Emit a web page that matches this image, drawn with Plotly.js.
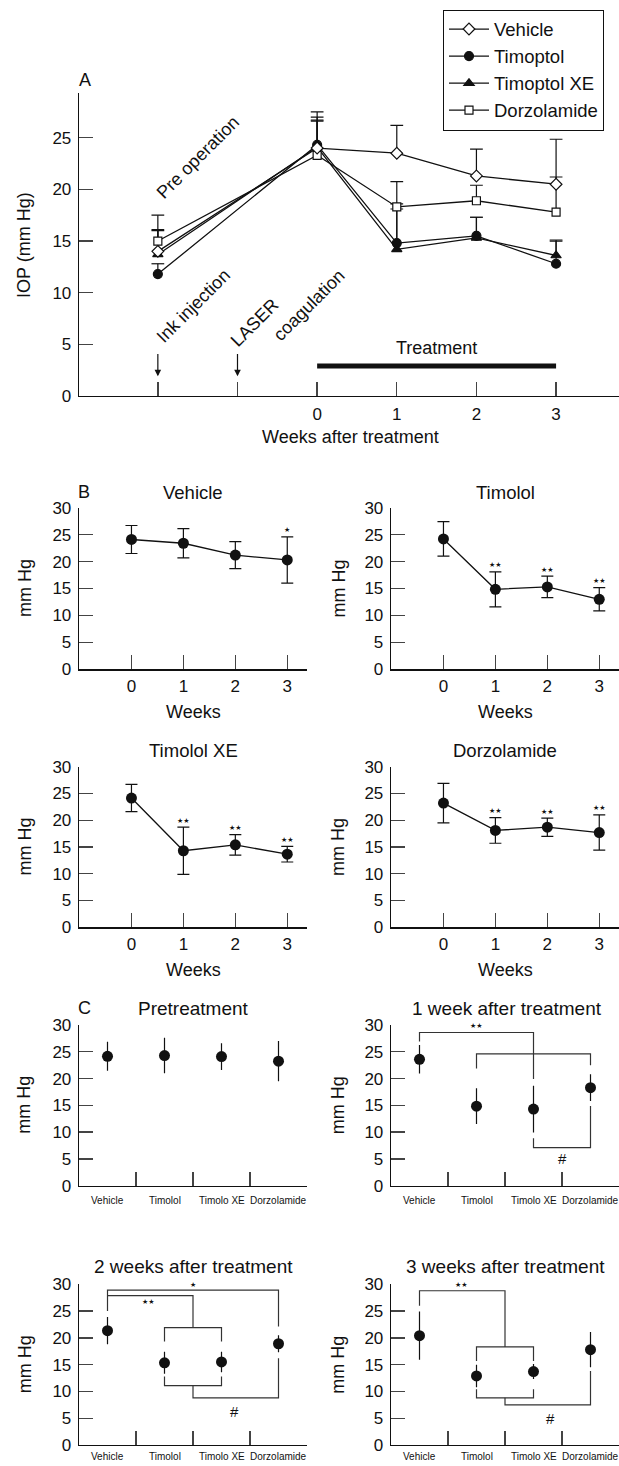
<!DOCTYPE html>
<html><head><meta charset="utf-8">
<script src="https://cdn.plot.ly/plotly-3.0.1.min.js"></script>
<style>html,body{margin:0;padding:0;background:#fff;overflow:hidden;} #chart{width:619px;height:1466px;}</style>
</head><body><div id="chart"></div>
<script>
// ================= DATA =================
// Panel A: x = -2 is the pre-operation measurement, 0..3 weeks after treatment
const weeksA = [-2, 0, 1, 2, 3];
const tickValsA = [-2, -1, 0, 1, 2, 3];
const tickTextA = ['', '', '0', '1', '2', '3'];
const vehicleA = [14.0, 24.0, 23.5, 21.3, 20.5];
const vehicleAErr = [2.1, 2.6, 2.7, 2.6, 4.35];
const timoptolA = [11.8, 24.3, 14.8, 15.5, 12.8];
const timoptolAErr = [1.0, 3.2, 3.3, 1.8, 2.2];
const timoptolXEA = [13.7, 24.1, 14.2, 15.3, 13.6];
const timoptolXEAErr = [2.3, 2.6, 4.4, 2.0, 1.5];
const dorzolamideA = [15.0, 23.3, 18.3, 18.9, 17.8];
const dorzolamideAErr = [2.5, 3.7, 2.45, 1.5, 3.4];
const treatmentSpan = [0, 3];
const eventsA = [{x: -2, label: 'Ink injection'}, {x: -1, label: 'LASER'}];

// Panel B
const weeksB = [0, 1, 2, 3];
const bVehicle = [24.1, 23.4, 21.2, 20.3];
const bVehicleErr = [2.6, 2.7, 2.5, 4.3];
const bVehicleSig = ['', '', '', '★'];
const bTimolol = [24.2, 14.85, 15.3, 13.0];
const bTimololErr = [3.2, 3.25, 2.0, 2.15];
const bTimololSig = ['', '★★', '★★', '★★'];
const bTimololXE = [24.15, 14.3, 15.4, 13.65];
const bTimololXEErr = [2.55, 4.4, 1.9, 1.45];
const bTimololXESig = ['', '★★', '★★', '★★'];
const bDorzolamide = [23.2, 18.1, 18.7, 17.7];
const bDorzolamideErr = [3.7, 2.4, 1.7, 3.3];
const bDorzolamideSig = ['', '★★', '★★', '★★'];

// Panel C
const categoriesC = ['Vehicle', 'Timolol', 'Timolo XE', 'Dorzolamide'];
const cPre = [24.15, 24.3, 24.1, 23.25];
const cPreErr = [2.7, 3.3, 2.5, 3.75];
const cWeek1 = [23.6, 14.85, 14.3, 18.3];
const cWeek1Err = [2.65, 3.35, 4.35, 2.5];
const cWeek2 = [21.35, 15.35, 15.5, 18.9];
const cWeek2Err = [2.55, 2.05, 1.9, 1.6];
const cWeek3 = [20.4, 12.9, 13.7, 17.8];
const cWeek3Err = [4.5, 2.1, 1.4, 3.3];
// significance brackets: polyline vertices [category index, mmHg]
const bracketsWeek1 = [
  [[0, 26.9], [0, 28.6], [2, 28.6], [2, 19.9]],
  [[1, 21.9], [1, 24.6], [3, 24.6], [3, 22.5]],
  [[2, 8.85], [2, 7.1], [3, 7.1], [3, 14.9]]
];
const bracketLabelsWeek1 = [{x: 1, y: 29.9, t: '★★'}, {x: 2.5, y: 5.0, t: '#'}];
const bracketsWeek2 = [
  [[0, 25.0], [0, 28.9], [3, 28.9], [3, 22.1]],
  [[0, 27.9], [1.5, 27.9], [1.5, 21.9]],
  [[1, 19.3], [1, 21.9], [2, 21.9], [2, 19.3]],
  [[1, 12.8], [1, 11.1], [2, 11.1], [2, 12.8]],
  [[1.5, 11.1], [1.5, 8.8], [3, 8.8], [3, 16.2]]
];
const bracketLabelsWeek2 = [{x: 1.5, y: 29.8, t: '★'}, {x: 0.72, y: 26.7, t: '★★'}, {x: 2.22, y: 6.2, t: '#'}];
const bracketsWeek3 = [
  [[0, 26.0], [0, 28.8], [1.5, 28.8], [1.5, 18.3]],
  [[1, 15.7], [1, 18.3], [2, 18.3], [2, 15.7]],
  [[1, 10.4], [1, 8.8], [2, 8.8], [2, 10.4]],
  [[1.5, 8.8], [1.5, 7.5], [3, 7.5], [3, 13.8]]
];
const bracketLabelsWeek3 = [{x: 0.73, y: 29.8, t: '★★'}, {x: 2.3, y: 5.0, t: '#'}];

// ================= STYLE / LAYOUT =================
const W = 619, H = 1466;
const FONT = 'Liberation Sans, Arial, sans-serif';
const INK = '#111';
const px = v => v / W;
const py = v => 1 - v / H;

const traces = [];
const annotations = [];

function axisBase(extra) {
  return Object.assign({
    showline: true, linecolor: INK, linewidth: 1.3,
    ticks: 'inside', ticklen: 14, tickwidth: 1.3, tickcolor: '#444',
    showgrid: false, zeroline: false, fixedrange: true,
    ticklabeloverflow: 'allow',
    tickfont: {family: FONT, size: 17, color: INK}
  }, extra);
}
function text(t, x, y, size, extra) {
  annotations.push(Object.assign({
    text: t, x: px(x), y: py(y), xref: 'paper', yref: 'paper',
    xanchor: 'center', yanchor: 'middle', showarrow: false,
    font: {family: FONT, size: size, color: INK}
  }, extra || {}));
}

const layout = {
  width: W, height: H, margin: {l: 0, r: 0, t: 0, b: 0},
  paper_bgcolor: '#fff', plot_bgcolor: 'rgba(0,0,0,0)',
  font: {family: FONT, color: INK},
  showlegend: true,
  legend: {
    x: px(443), y: py(9.5), xanchor: 'left', yanchor: 'top',
    bordercolor: INK, borderwidth: 1, bgcolor: '#fff',
    font: {family: FONT, size: 18.5, color: INK},
    tracegroupgap: 0, itemwidth: 40
  }
};

// ---------- Panel A ----------
layout.xaxis = axisBase({domain: [px(79), 1], range: [-2.99, 3.79], anchor: 'y',
  tickmode: 'array', tickvals: tickValsA, ticktext: tickTextA, ticklabelstandoff: 2});
layout.yaxis = axisBase({domain: [py(396), py(93.3)], range: [0, 29.3], anchor: 'x',
  tickmode: 'array', tickvals: [0, 5, 10, 15, 20, 25], ticklabelstandoff: 3});

const seriesA = [
  {name: 'Timoptol', y: timoptolA, e: timoptolAErr, sym: 'circle', fill: INK, rank: 2, size: 9},
  {name: 'Timoptol XE', y: timoptolXEA, e: timoptolXEAErr, sym: 'triangle-up', fill: INK, rank: 3, size: 9},
  {name: 'Dorzolamide', y: dorzolamideA, e: dorzolamideAErr, sym: 'square', fill: '#fff', rank: 4, size: 8},
  {name: 'Vehicle', y: vehicleA, e: vehicleAErr, sym: 'diamond', fill: '#fff', rank: 1, size: 9}
];
// one-sided (upper) error bars built from the data
const capHalf = 0.08;
seriesA.forEach(s => {
  const ex = [], ey = [];
  weeksA.forEach((w, i) => {
    const top = s.y[i] + s.e[i];
    ex.push(w, w, null, w - capHalf, w + capHalf, null);
    ey.push(s.y[i], top, null, top, top, null);
  });
  traces.push({x: ex, y: ey, xaxis: 'x', yaxis: 'y', mode: 'lines',
    line: {color: INK, width: 1.2}, showlegend: false, hoverinfo: 'skip'});
});
seriesA.forEach(s => {
  traces.push({x: weeksA, y: s.y, name: s.name, xaxis: 'x', yaxis: 'y',
    mode: 'lines+markers', legendrank: s.rank, legendgroup: s.name,
    line: {color: INK, width: 1.3},
    marker: {symbol: s.sym, size: s.size, color: s.fill, line: {color: INK, width: 1.2}}});
});
traces.push({x: treatmentSpan, y: [2.9, 2.9], xaxis: 'x', yaxis: 'y', mode: 'lines',
  line: {color: INK, width: 5}, showlegend: false, hoverinfo: 'skip'});
annotations.push({text: 'Treatment', x: 1.5, y: 4.6, xref: 'x', yref: 'y', showarrow: false,
  font: {family: FONT, size: 18, color: INK}});
eventsA.forEach(ev => {
  annotations.push({text: '', x: ev.x, y: 1.9, ax: ev.x, ay: 4.2, xref: 'x', yref: 'y',
    axref: 'x', ayref: 'y', showarrow: true, arrowhead: 2, arrowsize: 1.1, arrowwidth: 1.2,
    arrowcolor: INK, standoff: 0});
});
const rot = {family: FONT, size: 18, color: INK};
annotations.push({text: 'Ink injection', x: -1.555, y: 8.7, xref: 'x', yref: 'y', showarrow: false, textangle: -45, font: rot});
annotations.push({text: 'LASER', x: -0.79, y: 7.1, xref: 'x', yref: 'y', showarrow: false, textangle: -45, font: rot});
annotations.push({text: 'coagulation', x: -0.1, y: 8.8, xref: 'x', yref: 'y', showarrow: false, textangle: -45, font: rot});
annotations.push({text: 'Pre operation', x: -1.49, y: 23.1, xref: 'x', yref: 'y', showarrow: false, textangle: -45, font: rot});
text('A', 85, 80, 18);
text('IOP (mm Hg)', 24, 245, 18, {textangle: -90});
text('Weeks after treatment', 350, 437, 18);

// ---------- Panels B & C geometry ----------
const colX = [[79, 307], [391, 619]];
const rowY = [[507.7, 669.3], [766.7, 927.3], [1025, 1185.7], [1284.3, 1445]];

function panelAxes(n, col, row, isC) {
  const xa = 'xaxis' + n, ya = 'yaxis' + n;
  const xd = [px(colX[col][0]), px(colX[col][1])];
  const yd = [py(rowY[row][1]), py(rowY[row][0])];
  if (isC) {
    layout[xa] = axisBase({domain: xd, range: [-0.5, 3.5], anchor: 'y' + n,
      tickmode: 'array', tickvals: [0.5, 1.5, 2.5, 3.5], showticklabels: false});
    // category names under each group, placed on the axis scale
    categoriesC.forEach((c, i) => {
      annotations.push({text: c, x: i, xref: 'x' + n, y: py(row === 3 ? 1456 : 1200), yref: 'paper',
        xanchor: 'center', yanchor: 'middle', showarrow: false,
        font: {family: FONT, size: 10, color: INK}});
    });
  } else {
    layout[xa] = axisBase({domain: xd, range: [-1.01, 3.38], anchor: 'y' + n,
      tickmode: 'array', tickvals: weeksB, ticklabelstandoff: 1});
  }
  layout[ya] = axisBase({domain: yd, range: [0, 30], anchor: 'x' + n,
    tickmode: 'array', tickvals: [0, 5, 10, 15, 20, 25, 30], ticklabelstandoff: 3});
  const cx = (colX[col][0] + colX[col][1]) / 2;
  const midY = (rowY[row][0] + rowY[row][1]) / 2;
  text('mm Hg', col === 0 ? 24.5 : 338, midY, 18, {textangle: -90});
  if (!isC) text('Weeks', cx, rowY[row][1] + 42.5, 18);
}

function panelB(n, col, row, title, y, err, sig) {
  panelAxes(n, col, row, false);
  traces.push({x: weeksB, y: y, xaxis: 'x' + n, yaxis: 'y' + n, mode: 'lines+markers',
    showlegend: false, line: {color: INK, width: 1.3},
    marker: {symbol: 'circle', size: 11, color: INK},
    error_y: {type: 'data', array: err, visible: true, color: INK, thickness: 1.2, width: 6}});
  weeksB.forEach((w, i) => {
    if (sig[i]) annotations.push({text: sig[i], x: w, y: y[i] + err[i] + 1.2, xref: 'x' + n, yref: 'y' + n,
      showarrow: false, font: {family: 'DejaVu Sans', size: 7, color: INK}});
  });
  const cx = (colX[col][0] + colX[col][1]) / 2;
  text(title, cx, row === 0 ? 492 : 750, 18.5);
}

function panelC(n, col, row, title, y, err, brackets, labels) {
  panelAxes(n, col, row, true);
  (brackets || []).forEach(b => {
    traces.push({x: b.map(p => p[0]), y: b.map(p => p[1]), xaxis: 'x' + n, yaxis: 'y' + n,
      mode: 'lines', line: {color: '#333', width: 1.2}, showlegend: false, hoverinfo: 'skip'});
  });
  traces.push({x: [0, 1, 2, 3], y: y, xaxis: 'x' + n, yaxis: 'y' + n, mode: 'markers',
    showlegend: false, marker: {symbol: 'circle', size: 11, color: INK},
    error_y: {type: 'data', array: err, visible: true, color: INK, thickness: 1.2, width: 0}});
  (labels || []).forEach(l => {
    const isHash = l.t === '#';
    annotations.push({text: l.t, x: l.x, y: l.y, xref: 'x' + n, yref: 'y' + n, showarrow: false,
      font: {family: isHash ? FONT : 'DejaVu Sans', size: isHash ? 15 : 7, color: INK}});
  });
  const cx = (colX[col][0] + colX[col][1]) / 2 + (n === 7 ? 2 : 0);
  text(title, cx, row === 2 ? 1008 : 1266.7, 19);
}

panelB(2, 0, 0, 'Vehicle', bVehicle, bVehicleErr, bVehicleSig);
panelB(3, 1, 0, 'Timolol', bTimolol, bTimololErr, bTimololSig);
panelB(4, 0, 1, 'Timolol XE', bTimololXE, bTimololXEErr, bTimololXESig);
panelB(5, 1, 1, 'Dorzolamide', bDorzolamide, bDorzolamideErr, bDorzolamideSig);
text('B', 84, 492, 18);

panelC(6, 0, 2, 'Pretreatment', cPre, cPreErr, [], []);
panelC(7, 1, 2, '1 week after treatment', cWeek1, cWeek1Err, bracketsWeek1, bracketLabelsWeek1);
panelC(8, 0, 3, '2 weeks after treatment', cWeek2, cWeek2Err, bracketsWeek2, bracketLabelsWeek2);
panelC(9, 1, 3, '3 weeks after treatment', cWeek3, cWeek3Err, bracketsWeek3, bracketLabelsWeek3);
text('C', 84.5, 1008, 18);

layout.annotations = annotations;
Plotly.newPlot('chart', traces, layout, {staticPlot: true, displayModeBar: false});
</script>
</body></html>
